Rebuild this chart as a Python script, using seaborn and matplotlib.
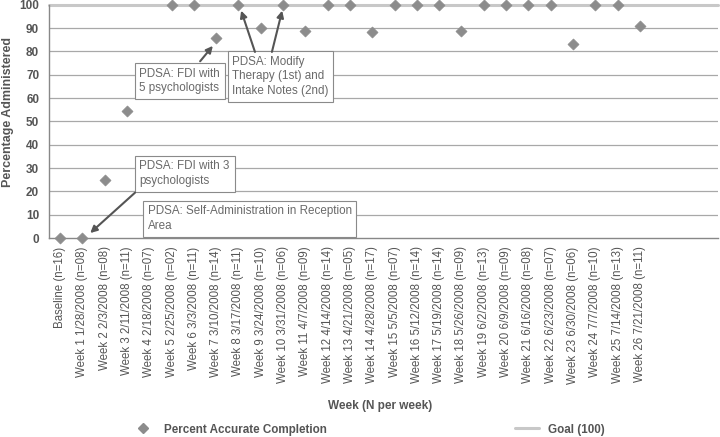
import matplotlib
matplotlib.use("Agg")
import matplotlib.pyplot as plt
from matplotlib.lines import Line2D
import numpy as np
import pandas as pd
import seaborn as sns

weeks = [
    "Baseline (n=16)",
    "Week 1 1/28/2008 (n=08)",
    "Week 2 2/3/2008 (n=08)",
    "Week 3 2/11/2008 (n=11)",
    "Week 4 2/18/2008 (n=07)",
    "Week 5 2/25/2008 (n=02)",
    "Week 6 3/3/2008 (n=11)",
    "Week 7 3/10/2008 (n=14)",
    "Week 8 3/17/2008 (n=11)",
    "Week 9 3/24/2008 (n=10)",
    "Week 10 3/31/2008 (n=06)",
    "Week 11 4/7/2008 (n=09)",
    "Week 12 4/14/2008 (n=14)",
    "Week 13 4/21/2008 (n=05)",
    "Week 14 4/28/2008 (n=17)",
    "Week 15 5/5/2008 (n=07)",
    "Week 16 5/12/2008 (n=14)",
    "Week 17 5/19/2008 (n=14)",
    "Week 18 5/26/2008 (n=09)",
    "Week 19 6/2/2008 (n=13)",
    "Week 20 6/9/2008 (n=09)",
    "Week 21 6/16/2008 (n=08)",
    "Week 22 6/23/2008 (n=07)",
    "Week 23 6/30/2008 (n=06)",
    "Week 24 7/7/2008 (n=10)",
    "Week 25 7/14/2008 (n=13)",
    "Week 26 7/21/2008 (n=11)",
]
percent = [0, 0, 25, 54.5, np.nan, 100, 100, 85.7, 100, 90, 100, 88.9, 100, 100,
           88.2, 100, 100, 100, 88.9, 100, 100, 100, 100, 83.3, 100, 100, 90.9]
goal = 100
n_slots = 30

df = pd.DataFrame({"pos": np.arange(len(weeks)), "week": weeks, "percent": percent})

sns.set_style("white")
plt.rcParams["font.family"] = ["Liberation Sans", "DejaVu Sans"]

txt = "#555555"
fig = plt.figure(figsize=(7.2, 4.37), dpi=100)
ax = fig.add_axes([0.068, 0.455, 0.929, 0.534])

for v in range(10, 100, 10):
    ax.axhline(v, color="#a8a8a8", lw=0.9, zorder=0)
ax.axhline(goal, color="#c8c8c8", lw=2.2, zorder=1, clip_on=False)

sns.scatterplot(data=df, x="pos", y="percent", marker="D", s=32,
                color="#8c8c8c", edgecolor="#8c8c8c", ax=ax, zorder=3, clip_on=False)

ax.set_xlim(-0.5, n_slots - 0.5)
ax.set_ylim(0, 100)
ax.set_yticks(range(0, 101, 10))
ax.set_xticks(df["pos"])
ax.set_xticklabels(weeks, rotation=90, fontsize=8.3, color=txt)
ax.set_xticks(np.arange(-0.5, n_slots, 1), minor=True)
ax.tick_params(axis="x", which="major", length=0, pad=6)
ax.tick_params(axis="x", which="minor", length=4, color="#888888", direction="out")
ax.tick_params(axis="y", length=4, color="#888888", direction="out", labelsize=8.5,
               labelcolor=txt, pad=3)
for lab in ax.get_yticklabels():
    lab.set_fontweight("bold")

for s in ["top", "right"]:
    ax.spines[s].set_visible(False)
for s in ["left", "bottom"]:
    ax.spines[s].set_color("#888888")
    ax.spines[s].set_linewidth(1.0)

ax.set_xlabel("Week (N per week)", fontsize=8.5, fontweight="bold", color=txt)
ax.xaxis.set_label_coords(0.495, -0.695)
ax.set_ylabel("Percentage Administered", fontsize=9, fontweight="bold", color=txt)
ax.yaxis.set_label_coords(-0.052, 0.54)

box = dict(boxstyle="square,pad=0.4", fc="white", ec="#8a8a8a", lw=0.8)
arrow = dict(arrowstyle="-|>", color="#555555", lw=1.5, mutation_scale=10, shrinkA=0, shrinkB=0)
afont = dict(fontsize=8.4, color="#6a6a6a", va="center", ha="left", linespacing=1.3, zorder=5)

ax.text(3.56, 67.4, "PDSA: FDI with\n5 psychologists", bbox=box, **afont)
ax.text(7.72, 69.3, "PDSA: Modify\nTherapy (1st) and\nIntake Notes (2nd)", bbox=box, **afont)
ax.text(3.56, 27.7, "PDSA: FDI with 3\npsychologists", bbox=box, **afont)
ax.text(3.92, 8.4, "PDSA: Self-Administration in Reception\nArea", bbox=box, **afont)

ax.annotate("", xy=(6.85, 82.4), xytext=(6.28, 75.8), arrowprops=arrow, zorder=6)
ax.annotate("", xy=(8.12, 97.5), xytext=(8.74, 79.8), arrowprops=arrow, zorder=6)
ax.annotate("", xy=(9.96, 97.5), xytext=(9.5, 79.8), arrowprops=arrow, zorder=6)
ax.annotate("", xy=(1.35, 2.2), xytext=(3.36, 19.5), arrowprops=arrow, zorder=6)

handles = [
    Line2D([], [], marker="D", ls="none", color="#8c8c8c", markersize=5.5),
    Line2D([], [], color="#c8c8c8", lw=2.2),
]
leg = fig.legend(handles, ["Percent Accurate Completion", "Goal (100)"], ncol=2,
                 loc="center", bbox_to_anchor=(0.511, 0.017), frameon=False,
                 columnspacing=16.2, handlelength=2.0, prop=dict(size=8.4, weight="bold"))
for t in leg.get_texts():
    t.set_color(txt)

fig.savefig("out.png", dpi=100)
